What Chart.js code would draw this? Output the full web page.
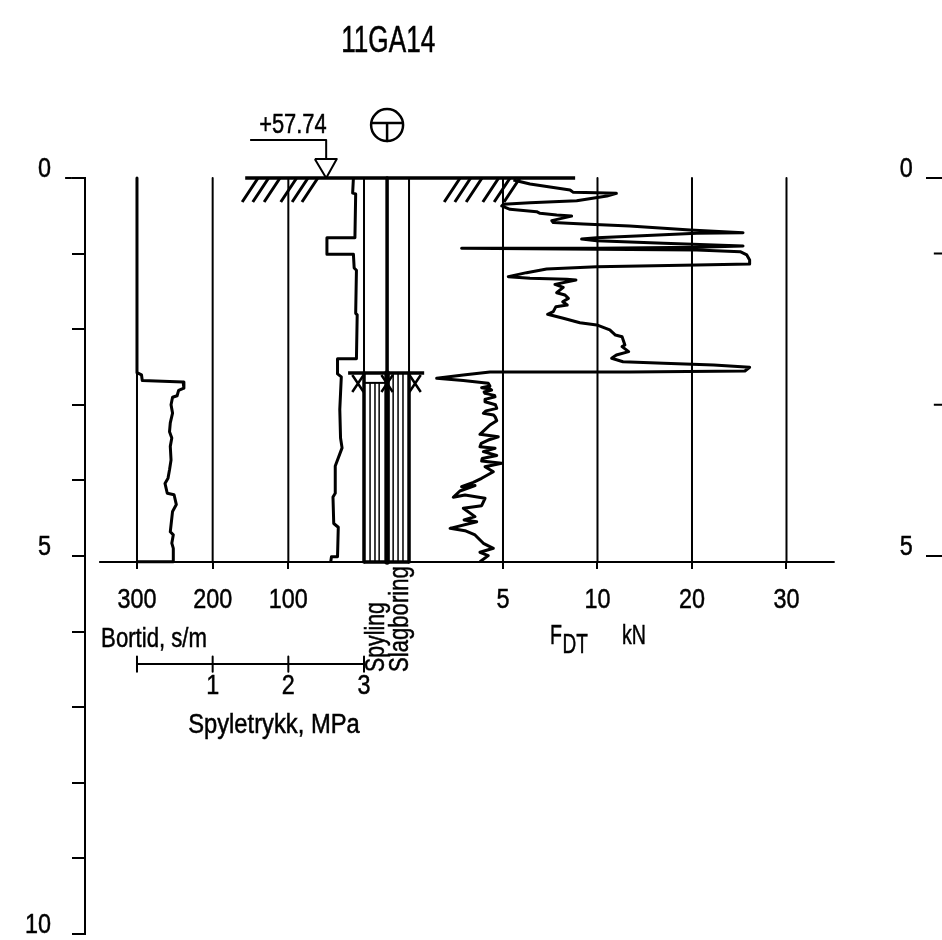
<!DOCTYPE html>
<html>
<head>
<meta charset="utf-8">
<title>11GA14</title>
<script src="https://cdn.jsdelivr.net/npm/chart.js@4/dist/chart.umd.min.js"></script>
<style>
html, body { margin: 0; padding: 0; background: #fff; overflow: hidden; }
canvas { display: block; }
</style>
</head>
<body>
<canvas id="soundingChart" width="942" height="940"></canvas>
<script>
const FONT = '"Liberation Sans", sans-serif';
const TICK_SQUEEZE = 0.835;
const TEXT_WEIGHT = 0.5;

//Depth axes, metres.
const depthTicks = [0, 1, 2, 3, 4, 5, 6, 7, 8, 9, 10];
const neighbourTicks = [0, 5];
const neighbourMinorTicks = [1, 3];
const baselineDepth = 5.08;

//Horizontal axes.
const bortidTicks = [300, 200, 100];
const pressureTicks = [1, 2, 3];
const pressureMarks = [0, 1, 2, 3];
const forceTicks = [5, 10, 20, 30];

//Bortid, s/m.
const bortidValues = [300, 300, 294, 293, 239, 238, 245, 247, 253, 255, 253, 256, 257, 254, 256, 255, 257, 259, 263, 260, 251, 248, 253, 255, 256, 252, 254, 252, 252, 300];
const bortidDepths = [0, 2.575, 2.605, 2.68, 2.70, 2.78, 2.81, 2.88, 2.90, 3.00, 3.11, 3.24, 3.355, 3.44, 3.55, 3.73, 3.86, 3.97, 4.04, 4.17, 4.19, 4.32, 4.41, 4.59, 4.68, 4.72, 4.83, 4.90, 5.075, 5.075];

//Spyletrykk, MPa.
const pressureValues = [2.86, 2.85, 2.89, 2.88, 2.51, 2.51, 2.86, 2.87, 2.90, 2.89, 2.91, 2.90, 2.65, 2.65, 2.70, 2.68, 2.69, 2.71, 2.62, 2.62, 2.59, 2.60, 2.66, 2.65, 2.57, 2.56];
const pressureDepths = [0, 0.20, 0.21, 0.79, 0.79, 1.01, 1.01, 1.19, 1.22, 1.79, 1.81, 2.39, 2.39, 2.59, 2.63, 3.06, 3.44, 3.57, 3.81, 4.17, 4.22, 4.57, 4.62, 5.01, 5.01, 5.08];

//Nedpressingskraft FDT, kN.
const forceValues = [
    5.55, 6.43, 8.55, 8.72, 9.96, 12.0, 11.0, 8.90, 6.43, 5.02, 4.93, 5.37, 6.78, 6.96, 7.84, 8.63, 8.10, 7.58, 7.66, 9.25,
    13.4, 19.8, 25.4, 20.5, 14.1, 9.96, 9.16, 9.96, 17.0, 25.4, 20.5, 9.96, 2.81, 9.96, 20.5, 25.1, 25.8, 26.1, 26.1, 20.5,
    9.96, 7.31, 6.25, 5.28, 6.43, 8.37, 8.86, 7.75, 8.19, 7.84, 8.28, 8.46, 8.16, 8.40, 7.80, 7.66, 7.36, 8.19, 9.07, 9.96,
    11.3, 11.9, 12.6, 12.9, 12.6, 13.3, 12.0, 11.5, 12.7, 17.0, 22.3, 26.1, 25.6, 13.4, 4.31, 2.90, 1.49, 2.90, 4.22, 4.31,
    3.87, 4.30, 4.40, 4.00, 4.05, 4.55, 4.58, 4.10, 4.05, 4.60, 4.67, 4.10, 3.96, 4.50, 4.58, 4.67, 4.31, 3.78, 4.75, 4.22, 3.85, 3.78, 4.58, 3.96, 4.67, 3.90, 3.87, 4.93, 4.05, 4.49,
    3.87, 3.43, 2.81, 3.52, 2.72, 2.37, 2.99, 4.05, 3.87, 2.90, 3.52, 2.94, 3.61, 2.20, 2.99, 3.52, 3.96, 4.49, 3.78, 4.22, 3.78
];
const forceDepths = [
    0.026, 0.079, 0.159, 0.19, 0.194, 0.203, 0.238, 0.30, 0.326, 0.348, 0.37, 0.414, 0.445, 0.467, 0.49, 0.503, 0.534, 0.564, 0.59, 0.608,
    0.635, 0.688, 0.723, 0.732, 0.767, 0.789, 0.807, 0.829, 0.864, 0.90, 0.917, 0.93, 0.93, 0.944, 0.952, 0.974, 1.018, 1.085, 1.137, 1.151,
    1.173, 1.204, 1.252, 1.305, 1.327, 1.34, 1.349, 1.407, 1.446, 1.517, 1.548, 1.592, 1.636, 1.68, 1.702, 1.768, 1.803, 1.856, 1.914, 1.944,
    2.01, 2.077, 2.099, 2.209, 2.231, 2.297, 2.341, 2.385, 2.43, 2.451, 2.473, 2.504, 2.553, 2.566, 2.566, 2.606, 2.65, 2.68, 2.716, 2.751,
    2.775, 2.79, 2.804, 2.83, 2.849, 2.875, 2.893, 2.925, 2.959, 3.0, 3.047, 3.08, 3.113, 3.135, 3.157, 3.21, 3.267, 3.391, 3.422, 3.466, 3.51, 3.554, 3.576, 3.62, 3.67, 3.71, 3.744, 3.774, 3.819, 3.885,
    3.972, 4.025, 4.083, 4.069, 4.14, 4.224, 4.193, 4.237, 4.334, 4.369, 4.479, 4.523, 4.546, 4.634, 4.665, 4.722, 4.832, 4.898, 4.951, 4.995, 5.075
];

//Force axis runs 0-10 in steps of 5, then in steps of 10 at the same spacing.
function forcePos(kN) {
    return kN <= 10 ? kN : 10 + (kN - 10) / 2;
}

//Pairs of points on a scale, with a gap between each pair.
function segments(xStart, yStart, xEnd, yEnd) {
    const points = [];

    xStart.forEach(function (x, i) {
        points.push({ x: x, y: yStart[i] });
        points.push({ x: xEnd[i], y: yEnd[i] });
        points.push({ x: null, y: null });
    });

    return points;
}

function curve(xValues, yValues) {
    return xValues.map(function (x, i) {
        return { x: x, y: yValues[i] };
    });
}

function lineSet(points, xAxisID, width) {
    return {
        data: points,
        xAxisID: xAxisID,
        yAxisID: 'y',
        showLine: true,
        spanGaps: false,
        tension: 0,
        borderColor: '#000',
        backgroundColor: '#000',
        borderWidth: width,
        borderJoinStyle: 'round',
        pointRadius: 0,
        clip: false
    };
}

function repeated(value, list) {
    return list.map(function () {
        return value;
    });
}

//Ground surface hatching, feet of the strokes on the Bortid scale.
const hatchFeet = [161, 147, 132, 110, 95, 82, -106, -120, -135, -157, -172, -185];
const hatchHeads = hatchFeet.map(function (x) {
    return x - 21;
});

//Borehole columns on the Bortid scale.
const spylingLines = [-8, -14.5, -20];
const slagLines = [-38.5, -45, -51.5];
const crossCentres = [8, -30.5, -67.5];

const datasets = [];

//Grid lines down to the baseline.
datasets.push(lineSet(segments(bortidTicks, repeated(0, bortidTicks), bortidTicks, repeated(baselineDepth, bortidTicks)), 'xBortid', 2));
const forceGrid = forceTicks.map(forcePos);
datasets.push(lineSet(segments(forceGrid, repeated(0, forceGrid), forceGrid, repeated(baselineDepth, forceGrid)), 'xForce', 2));

//Baseline and ground line.
datasets.push(lineSet(curve([350, -622], [baselineDepth, baselineDepth]), 'xBortid', 2));
datasets.push(lineSet(curve([157, -279], [0, 0]), 'xBortid', 3.5));
datasets.push(lineSet(segments(hatchFeet, repeated(0.317, hatchFeet), hatchHeads, repeated(0, hatchFeet)), 'xBortid', 3));

//Long tick on the depth axis at 0.
datasets.push(lineSet(curve([395, 386], [0, 0]), 'xBortid', 2));

//Groundwater mark and the symbol next to it.
datasets.push(lineSet(curve([150.5, 50, 50], [-0.503, -0.503, -0.25]), 'xBortid', 2));
datasets.push(lineSet(curve([65, 36, 50, 65], [-0.25, -0.25, 0, -0.25]), 'xBortid', 2));
datasets.push(lineSet(segments([-10.5, -30.5], [-0.727, -0.727], [-50.5, -30.5], [-0.727, -0.489]), 'xBortid', 2.5));

//Borehole above and inside the Spyling / Slagboring column.
datasets.push(lineSet(segments([0, -59.5], [0, 0], [0, -59.5], [2.58, 2.58]), 'xBortid', 2));
datasets.push(lineSet(curve([-30.5, -30.5], [0, 2.58]), 'xBortid', 3.5));
datasets.push(lineSet(curve([21, -79.5], [2.58, 2.58]), 'xBortid', 3.5));
datasets.push(lineSet(segments([0, -59.5], [2.58, 2.58], [0, -59.5], [baselineDepth, baselineDepth]), 'xBortid', 3.5));
datasets.push(lineSet(curve([-30.5, -30.5], [2.58, baselineDepth]), 'xBortid', 5.5));
datasets.push(lineSet(curve([0, -30.5], [2.71, 2.71]), 'xBortid', 2));
datasets.push(lineSet(curve([0, -59.5], [baselineDepth, baselineDepth]), 'xBortid', 3.5));
datasets.push(lineSet(segments(spylingLines, repeated(2.71, spylingLines), spylingLines, repeated(baselineDepth, spylingLines)), 'xBortid', 1.5));
datasets.push(lineSet(segments(slagLines, repeated(2.58, slagLines), slagLines, repeated(baselineDepth, slagLines)), 'xBortid', 1.5));
crossCentres.forEach(function (x) {
    datasets.push(lineSet(segments([x + 7.5, x - 7.5], [2.606, 2.606], [x - 7.5, x + 7.5], [2.83, 2.83]), 'xBortid', 2.5));
});

//Spyletrykk scale line.
datasets.push(lineSet(curve([0, 3], [6.43, 6.43]), 'xTrykk', 2));
datasets.push(lineSet(segments(pressureMarks, repeated(6.33, pressureMarks), pressureMarks, repeated(6.53, pressureMarks)), 'xTrykk', 2));

//Neighbouring sounding, minor ticks.
datasets.push(lineSet(segments(repeated(-753, neighbourMinorTicks), neighbourMinorTicks, repeated(-764, neighbourMinorTicks), neighbourMinorTicks), 'xBortid', 2));

//Measured curves.
datasets.push(lineSet(curve(bortidValues, bortidDepths), 'xBortid', 3));
datasets.push(lineSet(curve(pressureValues, pressureDepths), 'xTrykk', 3));
datasets.push(lineSet(curve(forceValues.map(forcePos), forceDepths), 'xForce', 3));

//Drawing texts, placed on the Bortid and depth scales.
const drawingTexts = [
    { text: '11GA14', x: -32, y: -1.80, size: 36, squeeze: 0.727 },
    { text: '+57.74', x: 94, y: -0.70, size: 28, squeeze: 0.78 },
    { text: 'Bortid, s/m', x: 277.5, y: 6.10, size: 27, squeeze: 0.82 },
    { text: 'Spyletrykk, MPa', x: 119, y: 7.245, size: 27, squeeze: 0.88 },
    { text: 'F', x: -253.7, y: 6.058, size: 28, squeeze: 0.7 },
    { text: 'DT', x: -279, y: 6.177, size: 28, squeeze: 0.68 },
    { text: 'kN', x: -356.8, y: 6.058, size: 28, squeeze: 0.7 },
    { text: 'Spyling', x: -16, y: 6.534, size: 28, squeeze: 0.76, vertical: true },
    { text: 'Slagboring', x: -47.6, y: 6.534, size: 28, squeeze: 0.79, vertical: true }
];

//Drilling method symbol, ring around the T.
const symbolCentre = { x: -30.5, y: -0.70 };

const drawingTextPlugin = {
    id: 'drawingText',
    afterDraw: function (chart) {
        const ctx = chart.ctx;

        ctx.save();
        ctx.strokeStyle = '#000';
        ctx.lineWidth = 2.5;
        ctx.beginPath();
        ctx.arc(chart.scales.xBortid.getPixelForValue(symbolCentre.x), chart.scales.y.getPixelForValue(symbolCentre.y), 16, 0, Math.PI * 2);
        ctx.stroke();
        ctx.restore();

        drawingTexts.forEach(function (item) {
            const px = chart.scales.xBortid.getPixelForValue(item.x);
            const py = chart.scales.y.getPixelForValue(item.y);

            ctx.save();
            ctx.fillStyle = '#000';
            ctx.strokeStyle = '#000';
            ctx.lineWidth = TEXT_WEIGHT;
            ctx.font = item.size + 'px ' + FONT;
            ctx.translate(px, py);
            if (item.vertical) {
                ctx.rotate(-Math.PI / 2);
                ctx.textAlign = 'left';
            } else {
                ctx.textAlign = 'center';
            }
            ctx.scale(item.squeeze, 1);
            ctx.textBaseline = 'middle';
            ctx.fillText(item.text, 0, 0);
            ctx.strokeText(item.text, 0, 0);
            ctx.restore();
        });
    }
};

//Axes must not shrink the chart area for their labels, and the labels are condensed like the drawing's lettering.
function trimAxis(scale) {
    scale.paddingLeft = 0;
    scale.paddingRight = 0;
    scale.paddingTop = 0;
    scale.paddingBottom = 0;

    scale.drawLabels = function () {
        const ctx = scale.ctx;

        if (!scale.options.ticks.display) {
            return;
        }

        scale.getLabelItems().forEach(function (item) {
            ctx.save();
            ctx.translate(item.options.translation[0], item.options.translation[1]);
            ctx.scale(TICK_SQUEEZE, 1);
            ctx.font = item.font.string;
            ctx.fillStyle = item.options.color;
            ctx.strokeStyle = item.options.color;
            ctx.lineWidth = TEXT_WEIGHT;
            ctx.textAlign = item.options.textAlign;
            ctx.textBaseline = item.options.textBaseline;
            ctx.fillText(item.label, 0, item.textOffset);
            ctx.strokeText(item.label, 0, item.textOffset);
            ctx.restore();
        });
    };
}

function horizontalAxis(min, max, reverse, depth, tickValues, tickLength, padding, toLabel) {
    return {
        type: 'linear',
        min: min,
        max: max,
        reverse: reverse,
        position: { y: depth },
        border: { display: false },
        grid: { display: true, drawOnChartArea: false, drawTicks: tickLength > 0, tickLength: tickLength, color: '#000', lineWidth: 2 },
        afterFit: trimAxis,
        afterBuildTicks: function (scale) {
            scale.ticks = tickValues.map(function (value) {
                return { value: value };
            });
        },
        ticks: {
            autoSkip: false,
            maxRotation: 0,
            color: '#000',
            padding: padding,
            font: { family: FONT, size: 28 },
            callback: toLabel
        }
    };
}

function sideAxis(xValue, tickValues, tickLength, showLabels) {
    return {
        type: 'linear',
        min: 0,
        max: 10,
        reverse: true,
        position: { xBortid: xValue },
        border: { display: false },
        grid: { display: tickLength > 0, drawOnChartArea: false, tickLength: tickLength, color: '#000', lineWidth: 2 },
        afterFit: trimAxis,
        afterBuildTicks: function (scale) {
            scale.ticks = tickValues.map(function (value) {
                return { value: value };
            });
        },
        ticks: {
            display: showLabels,
            autoSkip: false,
            color: '#000',
            labelOffset: -9,
            font: { family: FONT, size: 28 }
        }
    };
}

function GenerateSoundingChart() {
    var soundingChartControl = document.getElementById('soundingChart');

    new Chart(soundingChartControl, {
        type: 'scatter',
        data: { datasets: datasets },
        plugins: [drawingTextPlugin],
        options: {
            responsive: false,
            animation: false,
            events: [],
            layout: { padding: { top: 178, bottom: 6, left: 0, right: 0 } },
            scales: {
                y: {
                    type: 'linear',
                    position: 'left',
                    min: 0,
                    max: 10,
                    reverse: true,
                    afterFit: function (scale) {
                        trimAxis(scale);
                        scale.width = 85;
                    },
                    afterBuildTicks: function (scale) {
                        scale.ticks = depthTicks.map(function (value) {
                            return { value: value };
                        });
                    },
                    border: { display: true, color: '#000', width: 2 },
                    grid: { drawOnChartArea: false, tickLength: 13, color: '#000', lineWidth: 2 },
                    ticks: {
                        autoSkip: false,
                        color: '#000',
                        padding: 21,
                        labelOffset: -9,
                        font: { family: FONT, size: 28 },
                        callback: function (value) {
                            return value % 5 === 0 ? String(value) : '';
                        }
                    }
                },
                yNeighbour: sideAxis(-764, neighbourTicks, 16, false),
                yNeighbourLabels: sideAxis(-725, neighbourTicks, 0, true),
                xBortid: horizontalAxis(-763.8, 368.7, true, baselineDepth, bortidTicks, 7, 14),
                xTrykk: horizontalAxis(-0.687, 10.638, false, 6.43, pressureTicks, 0, 5),
                xForce: horizontalAxis(-17.116, 28.228, false, baselineDepth, forceTicks.map(forcePos), 7, 14, function (value) {
                    return forceTicks.filter(function (kN) {
                        return forcePos(kN) === value;
                    })[0];
                })
            },
            plugins: {
                legend: { display: false },
                tooltip: { enabled: false },
                title: { display: false }
            }
        }
    });
}

GenerateSoundingChart();
</script>
</body>
</html>
